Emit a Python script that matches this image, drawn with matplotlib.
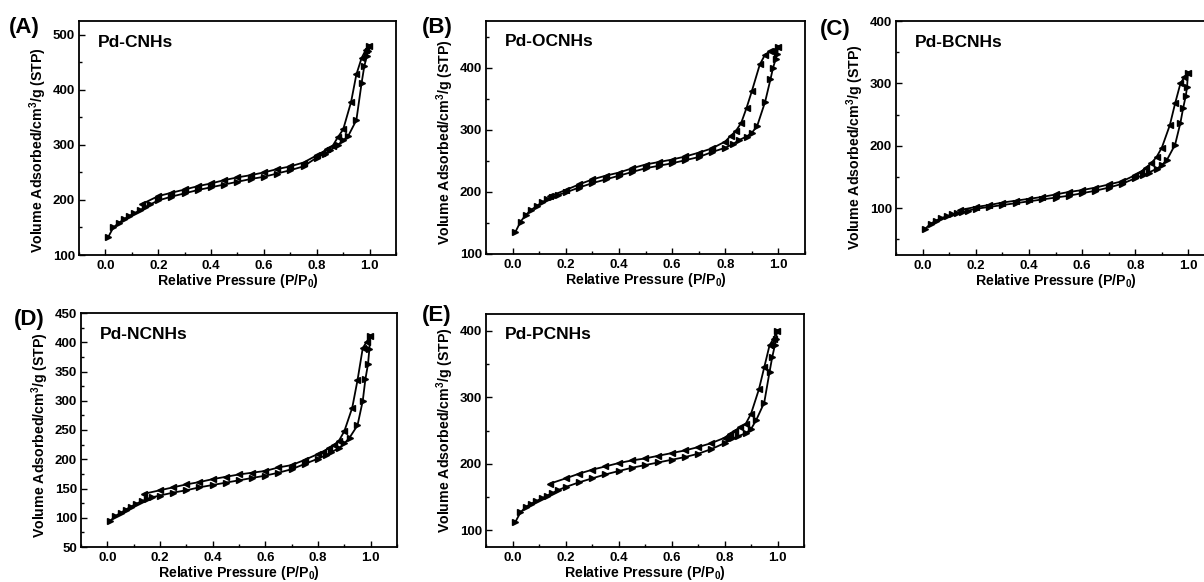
import numpy as np
import matplotlib.pyplot as plt
from matplotlib.ticker import MultipleLocator

plt.rcParams['font.family'] = ['Liberation Sans', 'DejaVu Sans']
plt.rcParams['font.weight'] = 'bold'
plt.rcParams['mathtext.fontset'] = 'custom'
plt.rcParams['mathtext.rm'] = 'Liberation Sans:bold'
plt.rcParams['mathtext.it'] = 'Liberation Sans:bold'
plt.rcParams['mathtext.bf'] = 'Liberation Sans:bold'

# relative pressure grid (adsorption up, desorption down)
ads_x = [0.01, 0.03, 0.05, 0.07, 0.09, 0.11, 0.13, 0.15, 0.17, 0.20, 0.25, 0.30, 0.35,
         0.40, 0.45, 0.50, 0.55, 0.60, 0.65, 0.70, 0.75, 0.80, 0.83, 0.85, 0.88, 0.90,
         0.92, 0.95, 0.97, 0.98, 0.99, 0.995, 0.998]
des_x = [0.998, 0.985, 0.97, 0.95, 0.93, 0.90, 0.88, 0.86, 0.84, 0.82, 0.80, 0.75,
         0.70, 0.65, 0.60, 0.55, 0.50, 0.45, 0.40, 0.35, 0.30, 0.25, 0.20, 0.14]

# volume adsorbed, cm3/g (STP)
A_ads = [132, 150, 158, 165, 171, 176, 181, 187, 192, 199, 206, 212, 218, 223, 228, 233,
         238, 242, 248, 254, 261, 277, 284, 290, 300, 308, 317, 345, 413, 443, 462, 470, 480]
A_des = [480, 472, 458, 428, 378, 328, 314, 298, 293, 286, 281, 268, 261, 256, 250, 245,
         241, 236, 230, 225, 219, 213, 207, 193]

B_ads = [135, 152, 163, 171, 177, 183, 188, 192, 195, 199, 207, 214, 220, 226, 232, 238,
         242, 246, 251, 256, 264, 271, 277, 283, 289, 295, 306, 345, 381, 400, 414, 422, 433]
B_des = [433, 428, 426, 421, 405, 362, 335, 311, 298, 290, 281, 270, 263, 257, 252, 248,
         244, 238, 231, 226, 220, 212, 203, 193]

C_ads = [67, 75, 80, 84, 87, 90, 92, 94, 96, 99, 102, 105, 108, 111, 114, 117, 120, 124,
         128, 133, 139, 148, 153, 157, 163, 169, 178, 202, 237, 260, 280, 294, 317]
C_des = [317, 310, 300, 268, 233, 197, 182, 172, 165, 158, 153, 143, 138, 133, 129, 126,
         122, 118, 115, 112, 109, 105, 102, 97]

D_ads = [94, 103, 108, 114, 119, 124, 128, 132, 135, 138, 143, 147, 152, 156, 160, 164,
         168, 172, 177, 183, 192, 201, 207, 212, 219, 227, 237, 258, 300, 337, 363, 388, 411]
D_des = [411, 401, 390, 335, 288, 248, 232, 224, 219, 213, 209, 199, 190, 186, 180, 177,
         174, 170, 166, 161, 157, 152, 147, 141]

E_ads = [112, 127, 135, 140, 144, 148, 152, 156, 160, 165, 172, 178, 184, 189, 194, 198,
         202, 206, 210, 215, 222, 231, 238, 241, 246, 252, 266, 292, 338, 360, 378, 388, 399]
E_des = [399, 388, 378, 345, 312, 275, 260, 255, 250, 245, 239, 231, 225, 220, 216, 212,
         208, 205, 201, 196, 191, 185, 178, 170]

letters = ["(A)", "(B)", "(C)", "(D)", "(E)"]
samples = ["Pd-CNHs", "Pd-OCNHs", "Pd-BCNHs", "Pd-NCNHs", "Pd-PCNHs"]
ylims = [(100, 525), (100, 475), (25, 400), (50, 450), (75, 425)]
ymajor = [100, 100, 100, 50, 100]

W, H = 1204, 582
fig = plt.figure(figsize=(W / 100, H / 100), dpi=100)

# axes boxes in pixels: left, top, width, height
boxes = [(79, 21, 317, 234), (486, 21, 319, 233), (896, 21, 319, 234),
         (81, 313, 316, 234), (486, 314, 318, 233)]
letter_pos = [(9, 28), (422, 28), (820, 29), (14, 319), (422, 316)]
ylab_y = [0.45, 0.48, 0.46, 0.48, 0.50]

data = [(A_ads, A_des), (B_ads, B_des), (C_ads, C_des), (D_ads, D_des), (E_ads, E_des)]

for i, (ads, des) in enumerate(data):
    l, t, w, h = boxes[i]
    ax = fig.add_axes([l / W, 1 - (t + h) / H, w / W, h / H])
    ax.plot(ads_x, ads, '-', color='k', lw=1.3, marker='>', ms=4, mec='k', mfc='k')
    ax.plot(des_x, des, '-', color='k', lw=1.3, marker='<', ms=4, mec='k', mfc='k')
    ax.set_xlim(-0.1, 1.1)
    ax.set_ylim(*ylims[i])
    ax.xaxis.set_major_locator(MultipleLocator(0.2))
    ax.xaxis.set_minor_locator(MultipleLocator(0.1))
    ax.yaxis.set_major_locator(MultipleLocator(ymajor[i]))
    ax.yaxis.set_minor_locator(MultipleLocator(ymajor[i] / 2))
    ax.xaxis.set_major_formatter(plt.FormatStrFormatter('%.1f'))
    ax.tick_params(which='both', direction='in', top=False, right=False,
                   labelsize=9.5, width=1.0)
    ax.tick_params(which='major', length=4.5)
    ax.tick_params(which='minor', length=2.5)
    ax.tick_params(axis='y', pad=3)
    for s in ax.spines.values():
        s.set_linewidth(1.3)
    ax.set_xlabel("Relative Pressure (P/P$_0$)", fontsize=10.2, fontweight='bold', labelpad=0)
    ax.set_ylabel("Volume Adsorbed/cm$^3$/g (STP)", fontsize=10.2, fontweight='bold')
    ax.yaxis.set_label_coords(-0.095, ylab_y[i])
    ax.text(0.06, 0.91, samples[i], transform=ax.transAxes, fontsize=12.5,
            fontweight='bold', va='center', ha='left')
    fig.text(letter_pos[i][0] / W, 1 - letter_pos[i][1] / H, letters[i],
             fontsize=16, fontweight='bold', va='center', ha='left')

fig.savefig("out.png", dpi=100, facecolor='white')
